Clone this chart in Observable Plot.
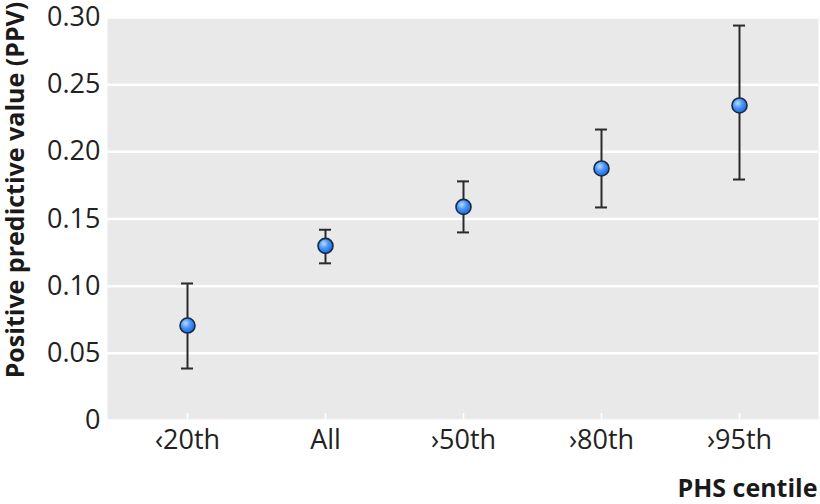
<!DOCTYPE html>
<html>
<head>
<meta charset="utf-8">
<script src="https://cdn.jsdelivr.net/npm/d3@7"></script>
<script src="https://cdn.jsdelivr.net/npm/@observablehq/plot@0.6"></script>
<style>
  body { margin: 0; background: #fff; }
  #chart svg { font-family: "Open Sans", sans-serif; overflow: visible; }
  #chart svg [aria-label="y-axis tick label"] text,
  #chart svg [aria-label="x-axis tick label"] text { font-size: 27px !important; fill: #222; }
  #chart svg [aria-label="y-axis label"] text,
  #chart svg [aria-label="x-axis label"] text { font-weight: bold; font-size: 25px !important; fill: #1a1a1a; }
</style>
</head>
<body>
<div id="chart"></div>
<script>
const categories = ["‹20th", "All", "›50th", "›80th", "›95th"];
const ppv   = [0.0707, 0.130, 0.159, 0.1876, 0.2345];
const lower = [0.0387, 0.117, 0.140, 0.1586, 0.1794];
const upper = [0.102, 0.142, 0.178, 0.2166, 0.294];
const yTicks = [0, 0.05, 0.10, 0.15, 0.20, 0.25, 0.30];
const yTickLabels = ["0", "0.05", "0.10", "0.15", "0.20", "0.25", "0.30"];

const data = categories.map((c, i) => ({cat: c, ppv: ppv[i], lo: lower[i], hi: upper[i]}));

const plot = Plot.plot({
  width: 820,
  height: 504,
  marginLeft: 107,
  marginRight: 2,
  marginTop: 17,
  marginBottom: 84,
  style: {fontFamily: "Open Sans, sans-serif", color: "#222"},
  x: {type: "band", domain: categories, paddingInner: 0.914, paddingOuter: 0.515},
  y: {domain: [0, 0.30]},
  marks: [
    Plot.frame({fill: "#e9e9e9", stroke: null}),
    Plot.gridY(yTicks, {stroke: "white", strokeOpacity: 1, strokeWidth: 2.5}),
    Plot.axisX({tickSize: 7, text: null, stroke: "white", strokeWidth: 1.6, strokeOpacity: 1, dy: -7, label: null}),
    Plot.axisX({tickSize: 0, tickPadding: 9, fill: "#222", label: "PHS centile", labelAnchor: "right", labelOffset: 76, labelArrow: "none"}),
    Plot.axisY(yTicks, {tickSize: 0, tickPadding: 7, tickFormat: (d, i) => yTickLabels[i], fill: "#222",
      label: "Positive predictive value (PPV)", labelAnchor: "center", labelOffset: 101, labelArrow: "none"}),
    Plot.ruleX(data, {x: "cat", y1: "lo", y2: "hi", stroke: "#2a2a2a", strokeWidth: 2}),
    Plot.tickY(data, {x: "cat", y: "lo", stroke: "#2a2a2a", strokeWidth: 2}),
    Plot.tickY(data, {x: "cat", y: "hi", stroke: "#2a2a2a", strokeWidth: 2}),
    Plot.dot(data, {x: "cat", y: "ppv", r: 7.5, fill: "#3a8cfa", stroke: "#1b2b40", strokeWidth: 1.6})
  ]
});

// radial gradient for dots
const ns = "http://www.w3.org/2000/svg";
const defs = document.createElementNS(ns, "defs");
defs.innerHTML = `<radialGradient id="dotGrad" cx="0.38" cy="0.35" r="0.7">
  <stop offset="0" stop-color="#b8dcff"/>
  <stop offset="0.45" stop-color="#4797fb"/>
  <stop offset="1" stop-color="#1c62dc"/>
</radialGradient>`;
plot.insertBefore(defs, plot.firstChild);
d3.select(plot).selectAll('g[aria-label="dot"] circle').attr("fill", "url(#dotGrad)");
// the reference's y title sits slightly above the panel centre
const yl = d3.select(plot).select('g[aria-label="y-axis label"]');
yl.attr("transform", "translate(0,-29) " + (yl.attr("transform") || ""));

document.getElementById("chart").appendChild(plot);
</script>
</body>
</html>
